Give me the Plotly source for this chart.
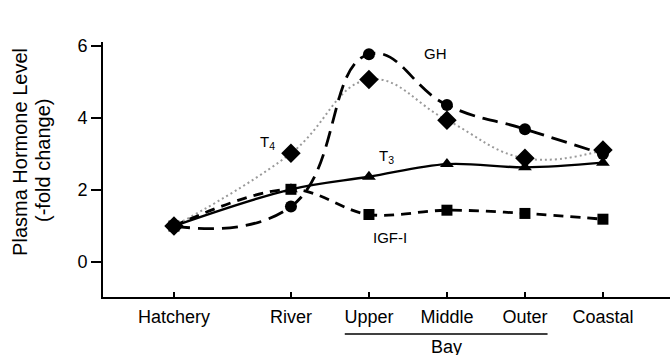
import plotly.graph_objects as go

sites = ["Hatchery", "River", "Upper", "Middle", "Outer", "Coastal"]
site_x = [0, 1.5, 2.5, 3.5, 4.5, 5.5]

gh = [1.0, 1.54, 5.77, 4.36, 3.69, 3.0]
t4 = [1.0, 3.02, 5.07, 3.94, 2.88, 3.11]
t3 = [1.0, 2.02, 2.37, 2.72, 2.63, 2.76]
igf = [1.0, 2.02, 1.32, 1.44, 1.35, 1.19]

y_ticks = [0, 2, 4, 6]

FONT = "Liberation Sans, Arial, sans-serif"

fig = go.Figure()

fig.add_trace(go.Scatter(
    x=site_x, y=t4, mode="lines+markers", name="T4",
    line=dict(color="#9a9a9a", width=2, dash="2px,3px", shape="spline", smoothing=1.2),
    marker=dict(symbol="diamond", size=15, color="black"),
))
fig.add_trace(go.Scatter(
    x=site_x, y=igf, mode="lines+markers", name="IGF-I",
    line=dict(color="black", width=2.8, dash="10px,7px", shape="spline", smoothing=1.0),
    marker=dict(symbol="square", size=11, color="black"),
))
fig.add_trace(go.Scatter(
    x=site_x, y=t3, mode="lines+markers", name="T3",
    line=dict(color="black", width=2.4, shape="spline", smoothing=1.0),
    marker=dict(symbol="triangle-up", size=12, color="black"),
))
fig.add_trace(go.Scatter(
    x=site_x, y=gh, mode="lines+markers", name="GH",
    line=dict(color="black", width=2.8, dash="16px,8px", shape="spline", smoothing=1.3),
    marker=dict(symbol="circle", size=12, color="black"),
))

ann_font = dict(family=FONT, size=15, color="black")
title_font = dict(family=FONT, size=20, color="black")
annotations = [
    dict(x=3.35, y=5.8, text="GH", showarrow=False, font=ann_font, xref="x", yref="y"),
    dict(x=1.2, y=3.33, text="T<sub>4</sub>", showarrow=False, font=ann_font, xref="x", yref="y"),
    dict(x=2.73, y=2.93, text="T<sub>3</sub>", showarrow=False, font=ann_font, xref="x", yref="y"),
    dict(x=2.77, y=0.67, text="IGF-I", showarrow=False, font=ann_font, xref="x", yref="y"),
    dict(x=3.5, y=-0.198, text="Bay", showarrow=False, yanchor="middle",
         font=dict(family=FONT, size=18, color="black"), xref="x", yref="paper"),
    dict(x=-0.1464, y=0.569, text="Plasma Hormone Level", showarrow=False,
         textangle=-90, xanchor="center", yanchor="middle", font=title_font,
         xref="paper", yref="paper"),
    dict(x=-0.106, y=0.537, text="(-fold change)", showarrow=False,
         textangle=-90, xanchor="center", yanchor="middle", font=title_font,
         xref="paper", yref="paper"),
]

fig.add_shape(type="line", x0=2.19, x1=4.79, y0=-0.145, y1=-0.145,
              xref="x", yref="paper", line=dict(color="black", width=1.5))

fig.update_layout(
    width=670, height=355,
    margin=dict(l=103, r=0, t=42, b=58),
    paper_bgcolor="white", plot_bgcolor="white",
    showlegend=False,
    font=dict(family=FONT, size=18, color="black"),
    annotations=annotations,
    xaxis=dict(
        range=[-0.91, 6.36], tickvals=site_x, ticktext=sites,
        showline=True, linecolor="black", linewidth=2,
        ticks="inside", ticklen=5, tickwidth=1.5, tickcolor="black",
        showgrid=False, zeroline=False, ticklabelstandoff=2,
        tickfont=dict(family=FONT, size=18, color="black"),
    ),
    yaxis=dict(
        range=[-0.97, 6.11], tickvals=y_ticks,
        showline=True, linecolor="black", linewidth=2,
        ticks="outside", ticklen=10, tickwidth=1.5, tickcolor="black",
        showgrid=False, zeroline=False,
        tickfont=dict(family=FONT, size=18, color="black"),
    ),
)

fig.write_html("out.html")
